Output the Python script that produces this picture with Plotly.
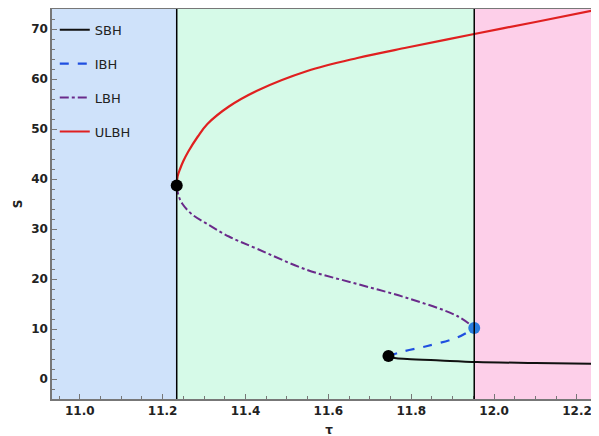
import plotly.graph_objects as go

tau_c1 = 11.234
tau_c2 = 11.952
x_min, x_max = 10.933, 12.27
y_min, y_max = -4.0, 74.0

ulbh_tau = [11.234, 11.236, 11.242, 11.25, 11.262, 11.285, 11.308, 11.36, 11.429, 11.549, 11.67, 11.79, 11.952, 12.10, 12.27]
ulbh_S   = [38.7, 40.5, 42.0, 43.6, 45.5, 48.5, 51.0, 54.5, 57.7, 61.6, 64.2, 66.3, 69.0, 71.4, 74.2]
lbh_tau  = [11.234, 11.238, 11.248, 11.27, 11.308, 11.36, 11.429, 11.549, 11.67, 11.79, 11.911, 11.952]
lbh_S    = [38.7, 36.8, 35.0, 33.0, 31.0, 28.5, 26.0, 21.8, 19.0, 16.2, 12.6, 10.2]
ibh_tau  = [11.745, 11.78, 11.839, 11.911, 11.952]
ibh_S    = [4.6, 5.5, 6.6, 8.3, 10.2]
sbh_tau  = [11.745, 11.76, 11.79, 11.87, 11.959, 12.10, 12.27]
sbh_S    = [4.6, 4.2, 4.0, 3.7, 3.4, 3.2, 3.0]

fig = go.Figure()
fig.add_trace(go.Scatter(x=sbh_tau, y=sbh_S, mode="lines", name="SBH", legendgroup="a",
                         line=dict(color="#111111", width=2, shape="spline")))
fig.add_trace(go.Scatter(x=ibh_tau, y=ibh_S, mode="lines", name="IBH", legendgroup="b",
                         line=dict(color="#1f4fe0", width=2.2, dash="dash", shape="spline")))
fig.add_trace(go.Scatter(x=lbh_tau, y=lbh_S, mode="lines", name="LBH", legendgroup="c",
                         line=dict(color="#6a2a8a", width=2, dash="dashdot", shape="spline")))
fig.add_trace(go.Scatter(x=ulbh_tau, y=ulbh_S, mode="lines", name="ULBH", legendgroup="d",
                         line=dict(color="#e02020", width=2.2, shape="spline")))
fig.add_trace(go.Scatter(x=[tau_c1, ibh_tau[0]], y=[ulbh_S[0], ibh_S[0]], mode="markers",
                         marker=dict(color="black", size=12), showlegend=False))
fig.add_trace(go.Scatter(x=[tau_c2], y=[lbh_S[-1]], mode="markers",
                         marker=dict(color="#2a7de0", size=12), showlegend=False))

fig.add_vrect(x0=x_min, x1=tau_c1, fillcolor="rgb(207,226,250)", opacity=1, line_width=0, layer="below")
fig.add_vrect(x0=tau_c1, x1=tau_c2, fillcolor="rgb(214,250,232)", opacity=1, line_width=0, layer="below")
fig.add_vrect(x0=tau_c2, x1=x_max, fillcolor="rgb(253,207,233)", opacity=1, line_width=0, layer="below")
for xv in (tau_c1, tau_c2):
    fig.add_vline(x=xv, line=dict(color="black", width=1.5))

fig.update_layout(
    width=599, height=436, margin=dict(l=44, r=1, t=1, b=45),
    plot_bgcolor="white", paper_bgcolor="white",
    font=dict(family="DejaVu Sans", size=12, color="#222"),
    legend=dict(x=0.005, y=0.985, bgcolor="rgba(0,0,0,0)", font=dict(size=13, color="#222"),
                tracegroupgap=14),
    showlegend=True,
)
fig.update_xaxes(range=[x_min, x_max], tickvals=[11.0, 11.2, 11.4, 11.6, 11.8, 12.0, 12.2],
                 ticktext=["<b>11.0</b>", "<b>11.2</b>", "<b>11.4</b>", "<b>11.6</b>", "<b>11.8</b>", "<b>12.0</b>", "<b>12.2</b>"],
                 automargin=False, showgrid=False, zeroline=False, showline=True, linecolor="#777",
                 linewidth=1.5, mirror=True, ticks="inside", ticklen=5, tickcolor="#777",
                 minor=dict(ticks="inside", ticklen=3, dtick=0.05, tickcolor="#777"),
                 title=dict(text="<b>τ</b>", standoff=8, font=dict(size=12)))
fig.update_yaxes(range=[y_min, y_max], tickvals=[0, 10, 20, 30, 40, 50, 60, 70],
                 ticktext=["<b>%d</b>" % v for v in [0, 10, 20, 30, 40, 50, 60, 70]],
                 automargin=False, showgrid=False, zeroline=False, showline=True, linecolor="#777",
                 linewidth=1.5, mirror=True, ticks="inside", ticklen=5, tickcolor="#777",
                 minor=dict(ticks="inside", ticklen=3, dtick=2, tickcolor="#777"),
                 title=dict(text="<b>S</b>", standoff=6, font=dict(size=12)))
fig.write_html("out.html")
